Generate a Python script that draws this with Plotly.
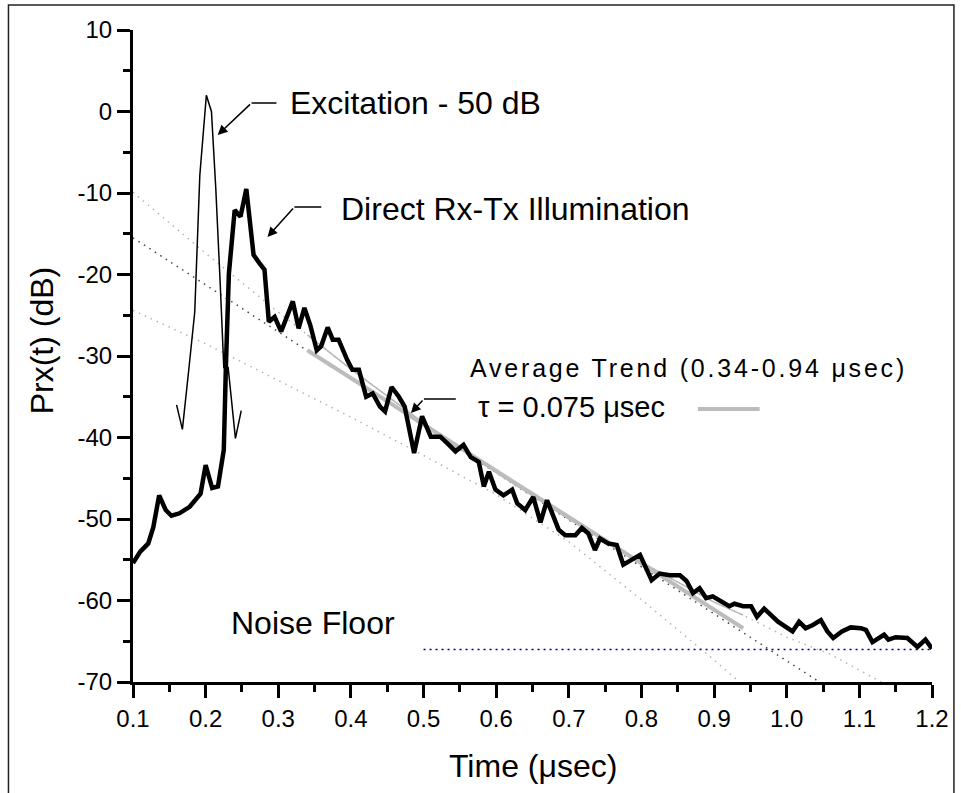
import plotly.graph_objects as go

# ---------------- data ----------------
time_us = [0.100, 0.110, 0.121, 0.128, 0.136, 0.145, 0.153, 0.164, 0.178, 0.193,
           0.200, 0.209, 0.217, 0.225, 0.228, 0.232, 0.240, 0.248, 0.256, 0.266,
           0.274, 0.281, 0.287, 0.295, 0.304, 0.320, 0.328, 0.336, 0.344, 0.353,
           0.359, 0.368, 0.375, 0.383, 0.395, 0.402, 0.411, 0.421, 0.430, 0.440,
           0.447, 0.456, 0.466, 0.474, 0.487, 0.498, 0.510, 0.523, 0.535, 0.544,
           0.555, 0.565, 0.576, 0.583, 0.590, 0.599, 0.610, 0.622, 0.629, 0.640,
           0.651, 0.661, 0.670, 0.686, 0.695, 0.709, 0.718, 0.727, 0.736, 0.743,
           0.754, 0.766, 0.775, 0.789, 0.798, 0.814, 0.825, 0.839, 0.853, 0.862,
           0.871, 0.880, 0.889, 0.898, 0.910, 0.921, 0.928, 0.940, 0.951, 0.959,
           0.969, 0.978, 0.988, 1.008, 1.017, 1.026, 1.036, 1.047, 1.056, 1.064,
           1.076, 1.088, 1.102, 1.109, 1.118, 1.134, 1.140, 1.150, 1.166, 1.180,
           1.191, 1.200]
prx_db = [-55.4, -54.0, -53.0, -51.0, -47.1, -48.9, -49.6, -49.3, -48.5, -46.9,
          -43.4, -46.2, -46.0, -41.5, -30.9, -19.9, -12.1, -12.9, -9.5, -17.6,
          -18.6, -19.4, -25.8, -25.2, -27.0, -23.3, -26.6, -24.1, -26.2, -29.3,
          -28.8, -26.5, -28.0, -28.0, -30.5, -31.7, -31.7, -35.0, -34.6, -36.2,
          -36.8, -33.8, -35.0, -36.2, -41.9, -37.4, -39.9, -39.9, -40.9, -41.7,
          -40.9, -42.4, -43.0, -46.0, -44.2, -46.4, -47.1, -46.4, -48.1, -48.9,
          -47.3, -50.4, -47.7, -51.3, -52.0, -52.0, -51.1, -51.8, -53.8, -52.4,
          -53.0, -53.2, -55.6, -54.8, -54.4, -57.5, -56.7, -56.9, -56.9, -57.6,
          -59.1, -58.5, -59.7, -59.5, -60.2, -60.7, -60.4, -60.7, -60.7, -62.0,
          -61.0, -61.8, -62.6, -63.8, -62.6, -63.4, -63.0, -62.4, -63.8, -64.6,
          -63.8, -63.3, -63.4, -63.6, -65.1, -64.2, -64.8, -64.5, -64.6, -65.7,
          -64.8, -65.9]

excitation_t = [0.160, 0.168, 0.177, 0.185, 0.192, 0.201, 0.208, 0.214, 0.220, 0.225, 0.231, 0.241, 0.249]
excitation_db = [-36.0, -39.0, -31.5, -24.6, -7.8, 2.0, 0.0, -9.5, -21.0, -31.4, -31.4, -40.1, -36.7]

trend_ext_t = [0.100, 1.045]
trend_ext_db = [-15.5, -70.0]
trend_t = [0.34, 0.94]
trend_db = [-29.3, -63.4]

upper_t = [0.10, 0.20, 0.30, 0.34, 0.40, 0.50, 0.60, 0.70, 0.80, 0.90, 0.94, 1.00, 1.06, 1.13]
upper_db = [-9.9, -17.4, -24.6, -27.4, -31.6, -38.2, -44.3, -50.0, -55.3, -60.2, -61.8, -64.5, -66.6, -70.0]
upper_solid_range = [0.34, 0.94]

lower_t = [0.10, 0.20, 0.30, 0.40, 0.50, 0.60, 0.70, 0.80, 0.90, 0.935]
lower_db = [-24.4, -28.5, -33.0, -37.5, -42.2, -47.0, -52.8, -59.9, -67.3, -70.0]

noise_t = [0.5, 1.2]
noise_db = [-66.0, -66.0]

x_ticks = [0.1, 0.2, 0.3, 0.4, 0.5, 0.6, 0.7, 0.8, 0.9, 1.0, 1.1, 1.2]
x_tick_labels = ["0.1", "0.2", "0.3", "0.4", "0.5", "0.6", "0.7", "0.8", "0.9", "1.0", "1.1", "1.2"]
y_ticks = [-70, -60, -50, -40, -30, -20, -10, 0, 10]
y_tick_labels = ["-70", "-60", "-50", "-40", "-30", "-20", "-10", "0", "10"]

# ---------------- figure ----------------
FONT = "Liberation Sans, Arial, Helvetica, sans-serif"
W, H = 961, 793
L, R, T, B = 133, 26, 30, 111

fig = go.Figure()

def line(x, y, color, width, dash="solid"):
    fig.add_trace(go.Scatter(x=x, y=y, mode="lines", hoverinfo="skip",
                             line=dict(color=color, width=width, dash=dash)))

line(upper_t, upper_db, "#b4b4b4", 1.5, "1.5px,5px")
line(lower_t, lower_db, "#b4b4b4", 1.5, "1.5px,5px")
line(trend_ext_t, trend_ext_db, "#444444", 1.5, "1.5px,5px")
line(noise_t, noise_db, "#000080", 1.5, "2px,4px")

us_x = [t for t in upper_t if upper_solid_range[0] <= t <= upper_solid_range[1]]
us_y = [v for t, v in zip(upper_t, upper_db) if upper_solid_range[0] <= t <= upper_solid_range[1]]
line(us_x, us_y, "#b8b8b8", 1.5)
line(trend_t, trend_db, "#bcbcbc", 4)
line(excitation_t, excitation_db, "#000000", 1.5)
line(time_us, prx_db, "#000000", 4.5)

def px2x(px):
    return (px - L) / (W - L - R)

def py2y(py):
    return (H - B - py) / (H - T - B)

def xd(px):
    return 0.1 + (px - L) / (W - L - R) * 1.1

def yd(py):
    return 10 - (py - T) / (H - T - B) * 80

annotations = []
shapes = []

def text(px, py, s, size, xanchor="left"):
    annotations.append(dict(x=px2x(px), y=py2y(py), xref="paper", yref="paper", text=s,
                            showarrow=False, xanchor=xanchor, yanchor="middle",
                            font=dict(family=FONT, size=size, color="black")))

def arrow(p_end, p_elbow, p_head):
    shapes.append(dict(type="line", xref="x", yref="y", x0=xd(p_end[0]), y0=yd(p_end[1]),
                       x1=xd(p_elbow[0]), y1=yd(p_elbow[1]), line=dict(color="black", width=1.5)))
    annotations.append(dict(x=xd(p_head[0]), y=yd(p_head[1]), xref="x", yref="y",
                            ax=xd(p_elbow[0]), ay=yd(p_elbow[1]), axref="x", ayref="y",
                            text="", showarrow=True, arrowhead=2, arrowsize=1.3,
                            arrowwidth=1.5, arrowcolor="black"))

text(289, 103, "Excitation - 50 dB", 32)
text(340, 209, "Direct Rx-Tx Illumination", 32)
text(229, 623, "Noise Floor", 32)
text(469, 368, '<span style="letter-spacing:2.8px">Average Trend (0.34-0.94 μsec)</span>', 25)
text(477, 407, "τ = 0.075 μsec", 29)

arrow((277, 103), (252, 103), (218, 135))
arrow((322, 207), (295, 207), (268, 237))
arrow((457, 399), (425, 399), (412, 413))

# legend sample of the trend line
shapes.append(dict(type="line", xref="paper", yref="paper", x0=px2x(700), x1=px2x(762),
                   y0=py2y(409), y1=py2y(409), line=dict(color="#bcbcbc", width=4)))
# outer frame
shapes.append(dict(type="rect", xref="paper", yref="paper", x0=px2x(8), x1=px2x(957),
                   y0=py2y(800), y1=py2y(5), line=dict(color="#222222", width=1.5)))

# axis titles
annotations.append(dict(x=px2x(534), y=py2y(766), xref="paper", yref="paper",
                        text="Time (μsec)", showarrow=False, xanchor="center", yanchor="middle",
                        font=dict(family=FONT, size=32, color="black")))
annotations.append(dict(x=px2x(42), y=py2y(340), xref="paper", yref="paper",
                        text="Prx(t) (dB)", showarrow=False, xanchor="center", yanchor="middle",
                        textangle=-90, font=dict(family=FONT, size=32, color="black")))

axis_common = dict(showgrid=False, zeroline=False, showline=True, linecolor="black",
                   linewidth=3, ticks="outside", ticklen=13, tickwidth=3, tickcolor="black",
                   tickfont=dict(family=FONT, size=24, color="black"), mirror=False)

fig.update_layout(
    width=W, height=H, margin=dict(l=L, r=R, t=T, b=B),
    paper_bgcolor="white", plot_bgcolor="white", showlegend=False,
    xaxis=dict(range=[0.1, 1.2], tickvals=x_ticks, ticktext=x_tick_labels,
               minor=dict(ticks="outside", ticklen=7, tickwidth=3, tickcolor="black", dtick=0.05, tick0=0.1),
               **axis_common),
    yaxis=dict(range=[-70, 10], tickvals=y_ticks, ticktext=y_tick_labels,
               minor=dict(ticks="outside", ticklen=7, tickwidth=3, tickcolor="black", dtick=5, tick0=0),
               **axis_common),
    annotations=annotations, shapes=shapes,
)

fig.write_html("out.html", config={"displayModeBar": False},
               post_script="document.body.style.margin='0';document.body.style.overflow='hidden';")
